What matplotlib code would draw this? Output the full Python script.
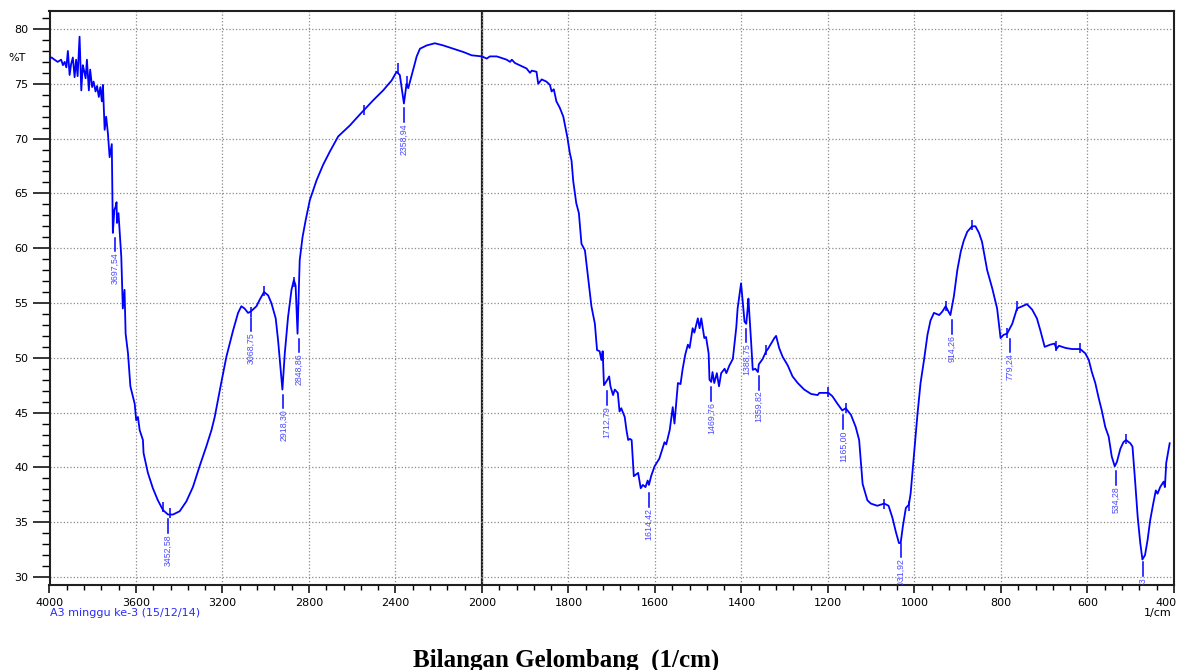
import numpy as np
import matplotlib
matplotlib.use("Agg")
import matplotlib.pyplot as plt
from matplotlib.ticker import FixedLocator, FixedFormatter
from matplotlib.transforms import ScaledTranslation

# spectrum, 4000 -> 400 1/cm
wavenumber = [
    4000, 3990, 3977, 3962, 3954, 3946, 3938, 3930, 3922, 3915, 3907, 3900, 3892, 3884,
    3877, 3870, 3861, 3853, 3846, 3840, 3833, 3827, 3818, 3812, 3803, 3796, 3787, 3780,
    3772, 3765, 3758, 3753, 3745, 3738, 3730, 3722, 3716, 3712, 3707, 3700, 3694, 3690,
    3688, 3681, 3668, 3661, 3653, 3648, 3637, 3626, 3606, 3599, 3591, 3583, 3568, 3565,
    3545, 3522, 3499, 3475, 3452, 3429, 3398, 3367, 3337, 3306, 3275, 3251, 3236, 3205,
    3182, 3151, 3128, 3113, 3098, 3082, 3071, 3060, 3043, 3028, 3008, 2989, 2974, 2954,
    2943, 2923, 2912, 2897, 2881, 2870, 2862, 2853, 2843, 2830, 2815, 2796, 2765, 2735,
    2704, 2665, 2611, 2565, 2503, 2457, 2418, 2395, 2380, 2361, 2349, 2341, 2318, 2302,
    2287, 2256, 2218, 2179, 2133, 2086, 2048, 2000,
    1989, 1982, 1966, 1958, 1943, 1935, 1931, 1924, 1908, 1897, 1889, 1885, 1874, 1870,
    1862, 1851, 1843, 1839, 1834, 1828, 1820, 1812, 1803, 1797, 1793, 1789, 1782, 1776,
    1770, 1762, 1755, 1747, 1739, 1734, 1728, 1724, 1721, 1718, 1710, 1706, 1703, 1697,
    1693, 1686, 1682, 1678, 1670, 1666, 1662, 1658, 1654, 1649, 1639, 1633, 1628, 1622,
    1617, 1614, 1609, 1601, 1590, 1578, 1574, 1566, 1559, 1555, 1547, 1541, 1536, 1530,
    1524, 1520, 1513, 1509, 1501, 1497, 1493, 1486, 1482, 1476, 1474, 1470, 1467, 1463,
    1457, 1452, 1447, 1439, 1435, 1428, 1420, 1412, 1409, 1401, 1393, 1389, 1386, 1384,
    1378, 1374, 1368, 1362, 1360, 1351, 1343, 1339, 1324, 1320, 1313, 1305, 1293, 1282,
    1270, 1255, 1239, 1224, 1220, 1199, 1190, 1178, 1167, 1159, 1147, 1136, 1128, 1120,
    1109, 1101, 1086, 1070, 1060, 1051, 1043, 1036, 1032, 1027, 1020, 1013, 1009, 1001,
    993, 986, 978, 970, 963, 955, 943, 936, 928, 917, 909, 901, 893, 886, 878, 867, 859,
    851, 844, 832, 820, 809, 801, 794, 786, 774, 763, 751, 740, 728, 717, 709, 699, 686,
    676, 672, 666, 651, 636, 617, 605, 597, 590, 582, 574, 567, 559, 551, 544, 537, 532,
    524, 517, 511, 501, 496, 490, 484, 478, 473, 467, 461, 455, 448, 442, 438, 432, 424,
    421, 418, 410,
]
transmittance = [
    77.3, 77.4, 77.2, 77.0, 77.1, 77.2, 76.7, 77.0, 76.5, 78.0, 75.8, 76.8, 77.4, 75.6,
    77.2, 75.7, 79.3, 74.4, 76.7, 76.2, 75.5, 77.2, 74.4, 76.3, 74.7, 75.2, 74.3, 74.8,
    73.8, 74.7, 73.4, 74.9, 70.8, 72.0, 70.5, 68.3, 69.0, 69.5, 61.4, 63.5, 63.8, 64.2,
    62.3, 63.2, 59.2, 54.5, 56.2, 52.2, 50.4, 47.4, 45.8, 44.3, 44.6, 43.4, 42.5, 41.3,
    39.5, 38.1, 37.0, 36.1, 35.7, 35.7, 36.0, 36.9, 38.2, 40.1, 41.9, 43.4, 44.6, 47.8,
    50.1, 52.5, 54.1, 54.7, 54.5, 54.1, 54.2, 54.4, 54.7, 55.3, 56.0, 55.7, 55.0, 53.6,
    51.6, 47.1, 50.4, 53.7, 56.2, 57.1, 56.6, 52.2, 58.9, 61.0, 62.6, 64.4, 66.2, 67.6,
    68.8, 70.2, 71.2, 72.2, 73.5, 74.4, 75.3, 76.1, 75.8, 73.2, 75.0, 74.6, 76.3, 77.5,
    78.2, 78.5, 78.7, 78.5, 78.2, 77.9, 77.6, 77.5,
    77.3, 77.5, 77.5, 77.4, 77.2, 77.0, 77.2, 76.9, 76.6, 76.4, 76.0, 76.2, 76.1, 75.0,
    75.4, 75.2, 74.9, 74.3, 74.5, 73.4, 72.8, 72.0, 70.2, 68.7, 68.0, 66.1, 64.1, 63.2,
    60.4, 59.8, 57.4, 54.7, 53.1, 50.7, 50.6, 49.8, 50.6, 47.5, 48.0, 48.3, 47.4, 46.6,
    47.1, 46.8, 45.1, 45.4, 44.6, 43.4, 42.5, 42.6, 42.5, 39.2, 39.5, 38.1, 38.4, 38.2,
    38.8, 38.4, 39.2, 40.1, 40.8, 42.3, 42.1, 43.4, 45.5, 44.0, 47.7, 47.6, 49.0, 50.3,
    51.2, 50.9, 52.7, 52.3, 53.6, 52.7, 53.6, 51.8, 51.9, 50.4, 48.0, 47.8, 48.7, 47.7,
    48.6, 47.4, 48.6, 49.0, 48.6, 49.3, 49.9, 52.8, 54.5, 56.8, 53.3, 53.1, 54.4, 55.4,
    51.6, 48.9, 49.0, 48.7, 49.4, 49.9, 50.6, 50.8, 51.8, 52.0, 50.9, 50.1, 49.3, 48.3,
    47.7, 47.1, 46.7, 46.6, 46.8, 46.8, 46.5, 45.8, 45.2, 45.4, 44.8, 43.7, 42.5, 38.5,
    37.0, 36.7, 36.5, 36.7, 36.5, 35.4, 34.1, 33.1, 33.1, 34.6, 36.3, 36.6, 37.6, 41.3,
    44.9, 47.7, 49.8, 52.1, 53.4, 54.1, 53.9, 54.2, 54.7, 53.9, 55.6, 58.0, 59.7, 60.7,
    61.5, 62.0, 62.0, 61.4, 60.6, 58.0, 56.3, 54.5, 51.8, 52.1, 52.2, 53.1, 54.5, 54.7,
    54.9, 54.4, 53.6, 52.5, 51.0, 51.2, 51.3, 50.8, 51.1, 50.9, 50.8, 50.8, 50.4, 49.8,
    48.7, 47.7, 46.3, 45.2, 43.7, 42.8, 41.0, 40.1, 40.5, 41.7, 42.3, 42.5, 42.2, 41.9,
    38.8, 35.5, 33.1, 31.6, 32.0, 33.4, 35.2, 36.7, 37.9, 37.6, 38.2, 38.7, 38.2, 40.4,
    42.2,
]

# labelled peaks
peak_wn = [3697, 3452, 3068, 2918, 2848, 2359, 1712, 1614, 1470, 1389, 1360,
           1165, 1032, 914, 779, 534, 471]
peak_t = [61.4, 35.7, 54.1, 47.1, 52.2, 73.2, 47.4, 38.1, 47.8, 53.1, 48.8,
          45.2, 33.5, 53.9, 52.2, 40.1, 31.8]
peak_labels = ["3697,54", "3452,58", "3068,75", "2918,30", "2848,86", "2358,94",
               "1712,79", "1614,42", "1469,76", "1388,75", "1359,82", "1165,00",
               "1031,92", "914,26", "779,24", "534,28", "470,53"]

# small unlabelled pick marks
mark_wn = [3475, 3444, 3068, 3008, 2869, 2547, 2387, 2349, 1720, 1343, 1199, 1159,
           1070, 1013, 928, 867, 786, 763, 672, 617, 511]
mark_t = [36.4, 35.8, 54.2, 56.1, 56.9, 72.6, 76.4, 75.3, 50.2, 50.7, 46.9, 45.4,
          36.7, 36.5, 54.7, 62.1, 52.3, 54.7, 51.1, 50.9, 42.6]

x_major = [4000, 3600, 3200, 2800, 2400, 2000, 1800, 1600, 1400, 1200, 1000, 800, 600, 400]
x_minor = list(range(2000, 4001, 80)) + list(range(400, 2001, 40))
y_major = [30, 35, 40, 45, 50, 55, 60, 65, 70, 75, 80]
y_minor = list(range(30, 82))


def forward(x):
    x = np.asarray(x, dtype=float)
    return np.where(x > 2000, 2000 + (x - 2000) / 2, x)


def inverse(u):
    u = np.asarray(u, dtype=float)
    return np.where(u > 2000, 2000 + (u - 2000) * 2, u)


W, H = 1179, 670
fig = plt.figure(figsize=(W / 100, H / 100), dpi=100)
ax = fig.add_axes([49.5 / W, 85 / H, 1124.5 / W, 574.3 / H])
ax.set_xscale('function', functions=(forward, inverse))
ax.set_xlim(4000, 400)
ax.set_ylim(29.27, 81.67)

ax.xaxis.set_major_locator(FixedLocator(x_major))
ax.xaxis.set_major_formatter(FixedFormatter([str(v) for v in x_major]))
ax.xaxis.set_minor_locator(FixedLocator(x_minor))
ax.yaxis.set_major_locator(FixedLocator(y_major))
ax.yaxis.set_minor_locator(FixedLocator(y_minor))

ax.grid(True, which='major', ls=':', color='#8a8a8a', lw=0.9)
ax.axvline(2000, color='#202020', lw=1.6, zorder=1.5)

ax.tick_params(axis='y', which='major', length=12, width=1.1, labelsize=8, pad=3)
ax.tick_params(axis='y', which='minor', length=5.5, width=1.0)
ax.tick_params(axis='x', which='major', length=6, width=1.1, labelsize=8, pad=3)
ax.tick_params(axis='x', which='minor', length=3.6, width=1.0)
for s in ax.spines.values():
    s.set_linewidth(1.5)
    s.set_color('#202020')

# keep the last tick label "400" inside the picture
last = ax.xaxis.get_major_ticks()[-1].label1
last.set_transform(last.get_transform() + ScaledTranslation(-0.08, 0, fig.dpi_scale_trans))

ax.plot(wavenumber, transmittance, color='#0000ff', lw=1.3, zorder=3)
ax.plot(mark_wn, mark_t, ls='none', marker='|', ms=7, mew=1.1, color='#0000ff', zorder=3)

for w, t, lab in zip(peak_wn, peak_t, peak_labels):
    ax.plot([w, w], [t - 0.45, t - 1.7], color='#0000ff', lw=1.1, zorder=3)
    ax.text(w, t - 1.8, lab, rotation=90, ha='center', va='top', fontsize=6.3,
            family='Liberation Sans', color='#4a4aff', clip_on=True, zorder=3)

fig.text(26 / W, 1 - 58 / H, '%T', ha='right', va='center', fontsize=8)
fig.text(49.5 / W, 1 - 613 / H, 'A3 minggu ke-3 (15/12/14)', ha='left', va='center',
         fontsize=8, color='#2a2aff')
fig.text(1172 / W, 1 - 613 / H, '1/cm', ha='right', va='center', fontsize=8)
fig.text(566 / W, 1 - 666.5 / H, 'Bilangan Gelombang  (1/cm)', ha='center', va='baseline',
         family='Liberation Serif', weight='bold', fontsize=18)

fig.savefig('out.png', dpi=100)
